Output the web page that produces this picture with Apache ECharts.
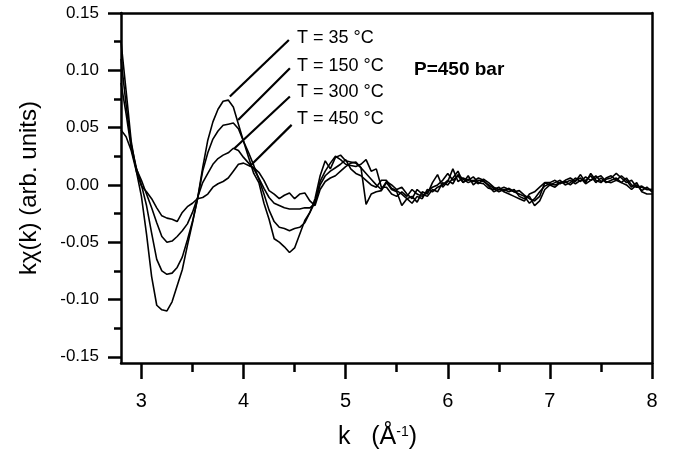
<!DOCTYPE html>
<html>
<head>
<meta charset="utf-8">
<script src="https://cdn.jsdelivr.net/npm/echarts@6/dist/echarts.min.js"></script>
<style>
  html, body { margin: 0; padding: 0; background: #fff; }
  #main { width: 673px; height: 453px; }
</style>
</head>
<body>
<div id="main"></div>
<script>
// k grid (1/Angstrom)
var kValues = [
  2.80, 2.85, 2.90, 2.95, 3.00, 3.05, 3.10, 3.15, 3.20, 3.25,
  3.30, 3.35, 3.40, 3.45, 3.50, 3.55, 3.60, 3.65, 3.70, 3.75,
  3.80, 3.85, 3.90, 3.95, 4.00, 4.05, 4.10, 4.15, 4.20, 4.25,
  4.30, 4.35, 4.40, 4.45, 4.50, 4.55, 4.60, 4.65, 4.70, 4.75,
  4.80, 4.85, 4.90, 4.95, 5.00, 5.05, 5.10, 5.15, 5.20, 5.25,
  5.30, 5.35, 5.40, 5.45, 5.50, 5.55, 5.60, 5.65, 5.70, 5.75,
  5.80, 5.85, 5.90, 5.95, 6.00, 6.05, 6.10, 6.15, 6.20, 6.25,
  6.30, 6.35, 6.40, 6.45, 6.50, 6.55, 6.60, 6.65, 6.70, 6.75,
  6.80, 6.85, 6.90, 6.95, 7.00, 7.05, 7.10, 7.15, 7.20, 7.25,
  7.30, 7.35, 7.40, 7.45, 7.50, 7.55, 7.60, 7.65, 7.70, 7.75,
  7.80, 7.85, 7.90, 7.95, 8.00
];

var chi35 = [
  0.125, 0.082, 0.038, 0.012, -0.010, -0.043, -0.080, -0.105, -0.109, -0.110,
  -0.102, -0.088, -0.074, -0.053, -0.033, -0.012, 0.015, 0.039, 0.055, 0.066,
  0.073, 0.074, 0.068, 0.053, 0.038, 0.024, 0.010, 0.002, -0.016, -0.030,
  -0.047, -0.050, -0.054, -0.059, -0.055, -0.043, -0.031, -0.024, -0.012, 0.008,
  0.021, 0.014, 0.024, 0.026, 0.021, 0.020, 0.019, 0.015, -0.017, -0.008,
  -0.006, -0.005, 0.002, -0.004, -0.006, -0.018, -0.012, -0.010, -0.015, -0.006,
  -0.008, 0.002, 0.009, -0.002, 0.003, 0.014, 0.003, 0.006, 0.004, 0.007,
  0.002, 0.001, -0.003, -0.004, -0.002, -0.006, -0.008, -0.010, -0.012, -0.014,
  -0.008, -0.006, -0.002, 0.002, 0.002, 0.004, 0.001, 0.004, 0.006, 0.003,
  0.009, 0.002, 0.010, 0.004, 0.002, 0.006, 0.008, 0.004, 0.002, 0.000,
  -0.004, 0.000, -0.005, -0.002, -0.006
];

var chi150 = [
  0.110, 0.070, 0.035, 0.015, 0.000, -0.018, -0.042, -0.065, -0.075, -0.078,
  -0.077, -0.072, -0.063, -0.048, -0.032, -0.012, 0.012, 0.028, 0.040, 0.047,
  0.052, 0.053, 0.054, 0.049, 0.038, 0.028, 0.017, 0.005, -0.008, -0.022,
  -0.032, -0.037, -0.038, -0.040, -0.038, -0.037, -0.033, -0.024, -0.015, 0.003,
  0.012, 0.019, 0.025, 0.022, 0.018, 0.017, 0.016, 0.018, 0.022, 0.012,
  0.014, -0.002, -0.002, -0.008, -0.010, -0.006, -0.010, -0.004, -0.008, -0.010,
  -0.006, -0.002, 0.000, 0.004, 0.010, 0.004, 0.008, 0.002, 0.005, 0.003,
  0.006, 0.004, -0.001, -0.006, -0.004, -0.002, -0.004, -0.006, -0.005, -0.009,
  -0.012, -0.014, -0.010, 0.002, 0.000, 0.002, 0.004, 0.000, 0.002, 0.006,
  0.003, 0.007, 0.004, 0.008, 0.003, 0.005, 0.006, 0.010, 0.006, 0.002,
  0.004, -0.002, -0.001, -0.004, -0.004
];

var chi300 = [
  0.089, 0.062, 0.032, 0.014, 0.004, -0.008, -0.020, -0.033, -0.045, -0.050,
  -0.049, -0.045, -0.040, -0.034, -0.024, -0.011, 0.002, 0.010, 0.018, 0.023,
  0.026, 0.028, 0.032, 0.030, 0.024, 0.019, 0.014, 0.006, -0.003, -0.011,
  -0.016, -0.018, -0.020, -0.021, -0.021, -0.021, -0.020, -0.020, -0.016, 0.000,
  0.008, 0.012, 0.015, 0.018, 0.022, 0.014, 0.010, 0.008, 0.004, 0.000,
  -0.002, 0.004, 0.004, -0.003, -0.005, -0.008, -0.012, -0.016, -0.010, -0.012,
  -0.004, -0.006, -0.002, 0.000, 0.004, 0.001, 0.009, 0.005, 0.002, 0.004,
  0.001, 0.005, 0.002, -0.002, -0.004, -0.005, -0.003, -0.006, -0.008, -0.010,
  -0.016, -0.012, -0.006, -0.001, 0.001, 0.000, 0.002, 0.002, 0.004, 0.001,
  0.004, 0.004, 0.008, 0.002, 0.006, 0.002, 0.004, 0.006, 0.002, 0.006,
  0.000, -0.002, -0.002, -0.004, -0.004
];

var chi450 = [
  0.048, 0.042, 0.030, 0.012, -0.001, -0.006, -0.012, -0.020, -0.027, -0.029,
  -0.030, -0.032, -0.024, -0.019, -0.016, -0.012, -0.011, -0.008, -0.002, 0.001,
  0.003, 0.006, 0.012, 0.018, 0.019, 0.017, 0.015, 0.011, 0.004, -0.005,
  -0.008, -0.012, -0.009, -0.007, -0.012, -0.008, -0.007, -0.014, -0.018, -0.004,
  0.003, 0.006, 0.008, 0.012, 0.016, 0.019, 0.020, 0.015, 0.010, 0.005,
  0.000, -0.004, 0.003, 0.000, -0.004, -0.002, -0.008, -0.012, -0.004, -0.008,
  -0.010, -0.004, -0.006, 0.002, 0.000, 0.006, 0.012, 0.002, 0.008, 0.000,
  0.004, 0.003, 0.000, -0.003, -0.006, -0.004, -0.006, -0.004, -0.010, -0.012,
  -0.010, -0.018, -0.014, -0.004, 0.000, -0.002, 0.002, 0.003, 0.000, 0.004,
  0.006, 0.001, 0.004, 0.006, 0.008, 0.003, 0.002, 0.004, 0.008, 0.004,
  -0.002, 0.002, -0.006, -0.008, -0.008
];

var seriesNames = ['T = 35 °C', 'T = 150 °C', 'T = 300 °C', 'T = 450 °C'];
var seriesValues = [chi35, chi150, chi300, chi450];

// leader lines, from label end to curve peak, in data units [k, chi]
var leaderLines = [
  [[4.444, 0.1265], [3.866, 0.0771]],
  [[4.454, 0.1018], [3.947, 0.0567]],
  [[4.454, 0.0771], [3.912, 0.0320]],
  [[4.471, 0.0524], [4.059, 0.0160]]
];

var xMajorTicks = [3, 4, 5, 6, 7, 8];
var xMinorTicks = [3.5, 4.5, 5.5, 6.5, 7.5];
var yMajorTicks = [-0.15, -0.10, -0.05, 0, 0.05, 0.10, 0.15];
var yMinorTicks = [-0.125, -0.075, -0.025, 0.025, 0.075, 0.125];

var font = 'Liberation Sans';
var kMin = 2.8, kMax = 8;
var yMin = -0.1554, yMax = 0.15;

var dom = document.getElementById('main');
var myChart = echarts.init(dom, null, { renderer: 'canvas' });

function toPairs(values) {
  return kValues.map(function (k, i) { return [k, values[i]]; });
}

var series = seriesValues.map(function (values, i) {
  return {
    name: seriesNames[i],
    type: 'line',
    xAxisIndex: 0,
    yAxisIndex: 0,
    data: toPairs(values),
    showSymbol: false,
    symbol: 'none',
    lineStyle: { color: '#000', width: 1.6 },
    z: 3,
    markLine: {
      silent: true,
      animation: false,
      symbol: ['none', 'none'],
      label: { show: false },
      lineStyle: { color: '#000', width: 2.2, type: 'solid' },
      data: [[{ coord: leaderLines[i][0] }, { coord: leaderLines[i][1] }]]
    }
  };
});

var labelTops = [29.5, 57, 83.5, 110.5];
var graphics = seriesNames.map(function (name, i) {
  return {
    type: 'text',
    left: 297,
    top: labelTops[i],
    style: { text: name, font: '18px "' + font + '"', fill: '#000' }
  };
});
graphics.push({
  type: 'text',
  left: 414,
  top: 60,
  style: { text: 'P=450 bar', font: 'bold 19px "' + font + '"', fill: '#000' }
});

var axisLineStyle = { color: '#000', width: 2.5 };

var option = {
  animation: false,
  backgroundColor: '#fff',
  grid: { left: 121, right: 21, top: 13, bottom: 90, containLabel: false, outerBoundsMode: 'none' },
  xAxis: [
    {
      type: 'value', position: 'bottom', min: kMin, max: kMax,
      axisLine: { show: true, onZero: false, lineStyle: axisLineStyle },
      axisTick: { show: true, customValues: xMajorTicks, length: 16, inside: false, lineStyle: { color: '#000', width: 2.5 } },
      axisLabel: { show: true, customValues: xMajorTicks, margin: 28, color: '#000', fontSize: 20, fontFamily: font },
      splitLine: { show: false },
      name: '{a|k   (Å}{s|-1}{a|)}',
      nameLocation: 'middle',
      nameGap: 62,
      nameTextStyle: {
        padding: [0, 18, 0, 0],
        rich: {
          a: { fontSize: 25, fontFamily: font, color: '#000' },
          s: { fontSize: 14, fontFamily: font, color: '#000', verticalAlign: 'top' }
        }
      }
    },
    {
      type: 'value', position: 'bottom', min: kMin, max: kMax,
      axisLine: { show: false, onZero: false },
      axisTick: { show: true, customValues: xMinorTicks, length: 9, lineStyle: { color: '#000', width: 2.5 } },
      axisLabel: { show: false },
      splitLine: { show: false }
    },
    {
      type: 'value', position: 'top', min: kMin, max: kMax,
      axisLine: { show: true, onZero: false, lineStyle: axisLineStyle },
      axisTick: { show: false },
      axisLabel: { show: false },
      splitLine: { show: false }
    }
  ],
  yAxis: [
    {
      type: 'value', position: 'left', min: yMin, max: yMax,
      axisLine: { show: true, onZero: false, lineStyle: axisLineStyle },
      axisTick: { show: true, customValues: yMajorTicks, length: 13, lineStyle: { color: '#000', width: 2.5 } },
      axisLabel: {
        show: true, customValues: yMajorTicks, margin: 22, color: '#000', fontSize: 17, fontFamily: font,
        formatter: function (v) { return v.toFixed(2); }
      },
      splitLine: { show: false },
      name: 'kχ(k) (arb. units)',
      nameLocation: 'middle',
      nameRotate: 90,
      nameGap: 80,
      nameTextStyle: { fontSize: 24, fontFamily: font, color: '#000' }
    },
    {
      type: 'value', position: 'left', min: yMin, max: yMax,
      axisLine: { show: false, onZero: false },
      axisTick: { show: true, customValues: yMinorTicks, length: 7, lineStyle: { color: '#000', width: 2.5 } },
      axisLabel: { show: false },
      splitLine: { show: false }
    },
    {
      type: 'value', position: 'right', min: yMin, max: yMax,
      axisLine: { show: true, onZero: false, lineStyle: axisLineStyle },
      axisTick: { show: false },
      axisLabel: { show: false },
      splitLine: { show: false }
    }
  ],
  graphic: graphics,
  series: series
};

if (option && typeof option === 'object') {
  myChart.setOption(option);
}

window.addEventListener('resize', myChart.resize);
</script>
</body>
</html>
